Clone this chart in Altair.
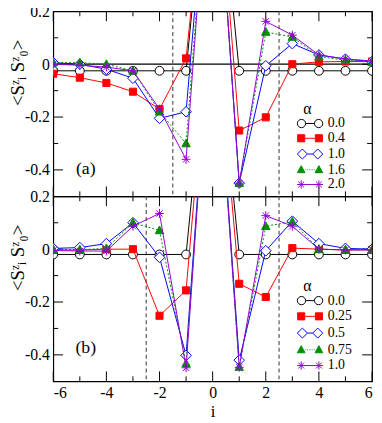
import altair as alt
import pandas as pd

# ---------------- data ----------------
i_vals = [-6, -5, -4, -3, -2, -1, 0, 1, 2, 3, 4, 5, 6]

alpha_a = ["0.0", "0.4", "1.0", "1.6", "2.0"]
a_00 = [-0.025, -0.025, -0.025, -0.025, -0.025, -0.025, 1.0, -0.025, -0.025, -0.025, -0.025, -0.025, -0.025]
a_04 = [-0.036, -0.051, -0.071, -0.104, -0.170, 0.022, 1.0, -0.251, -0.201, 0.0, 0.009, 0.010, 0.010]
a_10 = [0.006, 0.0, -0.019, -0.053, -0.205, -0.180, 1.0, -0.450, -0.006, 0.078, 0.035, 0.019, 0.010]
a_16 = [0.006, 0.006, 0.0, -0.025, -0.180, -0.300, 1.0, -0.450, 0.122, 0.103, 0.029, 0.015, 0.008]
a_20 = [0.0, -0.004, -0.011, -0.025, -0.170, -0.360, 1.0, -0.450, 0.162, 0.110, 0.035, 0.020, 0.012]

alpha_b = ["0.0", "0.25", "0.5", "0.75", "1.0"]
b_00 = [-0.02, -0.02, -0.02, -0.02, -0.02, -0.02, 1.0, -0.02, -0.02, -0.02, -0.02, -0.02, -0.02]
b_025 = [-0.003, -0.003, 0.0, 0.0, -0.252, -0.156, 1.0, -0.131, -0.181, 0.004, 0.0, -0.003, -0.003]
b_05 = [0.003, 0.006, 0.021, 0.100, -0.031, -0.402, 1.0, -0.420, -0.006, 0.106, 0.021, 0.003, 0.0]
b_075 = [0.0, -0.002, 0.003, 0.100, 0.071, -0.433, 1.0, -0.446, 0.087, 0.104, 0.0, -0.002, -0.002]
b_10 = [-0.005, -0.007, -0.007, 0.087, 0.135, -0.449, 1.0, -0.447, 0.127, 0.087, 0.0, -0.003, -0.002]

dashed_a = [-1.5, 2.5]
dashed_b = [-2.5, 2.5]

x_major = [-6, -4, -2, 0, 2, 4, 6]
x_minor = [-5, -3, -1, 1, 3, 5]
y_major = [0.0, -0.2, -0.4]
y_minor = [0.1, -0.1, -0.3]
y_labels = [0.2, 0.0, -0.2, -0.4]

# ---------------- styles ----------------
colors = ["#000000", "#ff0000", "#0000ff", "#009000", "#9400d3"]
fills = ["#ffffff", "#ff0000", "#ffffff", "#009000", "transparent"]
dash_styles = [None, None, None, [2, 2], None]

marker_paths = [
    "M1,0A1,1 0 1,1 -1,0A1,1 0 1,1 1,0Z",
    "M-0.8,-0.8H0.8V0.8H-0.8Z",
    "M0,-1.2L1.2,0L0,1.2L-1.2,0Z",
    "M0,-1L0.95,0.75H-0.95Z",
    "M-1,0H1M0,-1V1M-0.72,-0.72L0.72,0.72M-0.72,0.72L0.72,-0.72",
]
legend_paths = [
    "M-0.75,0H0.75M-0.75,0A0.7,0.7 0 1,1 -2.15,0A0.7,0.7 0 1,1 -0.75,0ZM2.15,0A0.7,0.7 0 1,1 0.75,0A0.7,0.7 0 1,1 2.15,0Z",
    "M-0.9,0H0.9M-2.1,-0.6H-0.9V0.6H-2.1ZM0.9,-0.6H2.1V0.6H0.9Z",
    "M-0.45,0H0.45M-1.3,-0.85L-0.45,0L-1.3,0.85L-2.15,0ZM1.3,-0.85L2.15,0L1.3,0.85L0.45,0Z",
    "M-0.8,0H-0.68M-0.5,0H-0.38M-0.2,0H-0.08M0.1,0H0.22M0.4,0H0.52M0.7,0H0.82"
    "M-1.5,-0.7L-0.85,0.5H-2.15ZM1.5,-0.7L2.15,0.5H0.85Z",
    "M-1.5,0H1.5M-2.2,0H-0.8M-1.5,-0.7V0.7M-2.0,-0.5L-1.0,0.5M-2.0,0.5L-1.0,-0.5"
    "M0.8,0H2.2M1.5,-0.7V0.7M1.0,-0.5L2.0,0.5M1.0,0.5L2.0,-0.5",
]

W, H = 324, 188
FONT = "Liberation Serif"
YTITLE = "<S\u1dbb\u1d62 S\u1dbb\u2080>"
LEG_TITLE = "\u00a0" * 7 + "\u03b1"


def panel(labels, values, dashed, tag, zero_line, bottom, tag_y, leg_y, row_pad):
    xs = alt.Scale(domain=[-6, 6], nice=False, zero=False)
    ys = alt.Scale(domain=[-0.5, 0.2], nice=False, zero=False)
    if bottom:
        xaxis = alt.Axis(values=x_major, ticks=False, domain=False, grid=False,
                         labelFont=FONT, labelFontSize=16, labelColor="black", labelPadding=3,
                         labelExpr="datum.value < 0 ? '-' + format(-datum.value, 'd') : format(datum.value, 'd')",
                         title="i", titleFont=FONT, titleFontSize=17, titleFontWeight="normal",
                         titleColor="black", titlePadding=4)
        X = alt.X("i:Q", scale=xs, axis=xaxis)
    else:
        X = alt.X("i:Q", scale=xs, axis=None)
    yaxis = alt.Axis(values=y_labels, ticks=False, domain=False, grid=False,
                     labelFont=FONT, labelFontSize=16, labelColor="black", labelPadding=4,
                     labelExpr="datum.value == 0 ? '0' : (datum.value < 0 ? '-' + format(-datum.value, '.1f') : format(datum.value, '.1f'))",
                     title=YTITLE, titleFont=FONT, titleFontSize=19, titleFontWeight="normal",
                     titleColor="black", titleAngle=270, titleX=-36, titleY=62,
                     titleAlign="center", titleBaseline="middle")
    Y = alt.Y("v:Q", scale=ys, axis=yaxis)

    layers = []
    # ticks (inward)
    for vals, ln in ((x_major, 10), (x_minor, 5)):
        d = pd.DataFrame({"i": vals})
        layers.append(alt.Chart(d).mark_rule(color="black", strokeWidth=1).encode(
            x=X, y=alt.value(0), y2=alt.value(ln)))
        layers.append(alt.Chart(d).mark_rule(color="black", strokeWidth=1).encode(
            x=X, y=alt.value(H), y2=alt.value(H - ln)))
    for vals, ln in ((y_major, 10), (y_minor, 5)):
        d = pd.DataFrame({"v": vals})
        layers.append(alt.Chart(d).mark_rule(color="black", strokeWidth=1).encode(
            y=Y, x=alt.value(0), x2=alt.value(ln)))
        layers.append(alt.Chart(d).mark_rule(color="black", strokeWidth=1).encode(
            y=Y, x=alt.value(W), x2=alt.value(W - ln)))
    if zero_line:
        layers.append(alt.Chart(pd.DataFrame({"v": [0.0]})).mark_rule(
            color="black", strokeWidth=1.3).encode(y=Y))
    layers.append(alt.Chart(pd.DataFrame({"i": dashed})).mark_rule(
        color="#555555", strokeWidth=1.2, strokeDash=[4, 3]).encode(x=X))

    for k, (lab, vals) in enumerate(zip(labels, values)):
        d = pd.DataFrame({"i": i_vals, "v": vals})
        lk = dict(color=colors[k], strokeWidth=1, clip=True)
        if dash_styles[k]:
            lk["strokeDash"] = dash_styles[k]
        layers.append(alt.Chart(d).mark_line(**lk).encode(x=X, y=Y))
        layers.append(alt.Chart(d).transform_filter("datum.i != 0").mark_point(
            shape=marker_paths[k], size=81, filled=False, stroke=colors[k], fill=fills[k],
            strokeWidth=1, opacity=1, clip=True).encode(x=X, y=Y))

    # legend layer
    rows = []
    for lab, vals in zip(labels, values):
        rows.append({"i": i_vals[0], "v": vals[0], "alpha": lab})
    dl = pd.DataFrame(rows)
    leg = alt.Legend(title=LEG_TITLE, orient="none", legendX=254, legendY=leg_y,
                     titleFont=FONT, titleFontSize=16, titleFontWeight="normal", titleColor="black",
                     titleAnchor="start", titleAlign="left", titlePadding=0, padding=0,
                     labelFont=FONT, labelFontSize=14, labelColor="black", labelOffset=11,
                     symbolSize=144, symbolOpacity=1, symbolStrokeWidth=1, rowPadding=row_pad)
    layers.append(alt.Chart(dl).mark_point(opacity=0, filled=False).encode(
        x=X, y=Y,
        shape=alt.Shape("alpha:N", scale=alt.Scale(domain=labels, range=legend_paths), legend=leg),
        stroke=alt.Stroke("alpha:N", scale=alt.Scale(domain=labels, range=colors), legend=leg),
        fill=alt.Fill("alpha:N", scale=alt.Scale(domain=labels, range=fills), legend=leg),
    ))
    layers.append(alt.Chart(pd.DataFrame({"t": [tag]})).mark_text(
        font=FONT, fontSize=18, color="black", align="center", baseline="alphabetic").encode(
        text="t:N", x=alt.value(33), y=alt.value(tag_y)))
    return alt.layer(*layers).properties(width=W, height=H)


pa = panel(alpha_a, [a_00, a_04, a_10, a_16, a_20], dashed_a, "(a)", True, False, 165, 91, 1)
pb = panel(alpha_b, [b_00, b_025, b_05, b_075, b_10], dashed_b, "(b)", False, True, 159, 83, 2)

chart = alt.vconcat(pa, pb, spacing=0, bounds="flush").resolve_scale(
    shape="independent", stroke="independent", fill="independent"
).properties(
    padding={"left": 0, "top": -9, "right": 0, "bottom": 0}, background="white"
).configure_view(stroke="black", strokeWidth=1.2)

chart.save("out.html", embed_options={"renderer": "svg", "actions": False})
